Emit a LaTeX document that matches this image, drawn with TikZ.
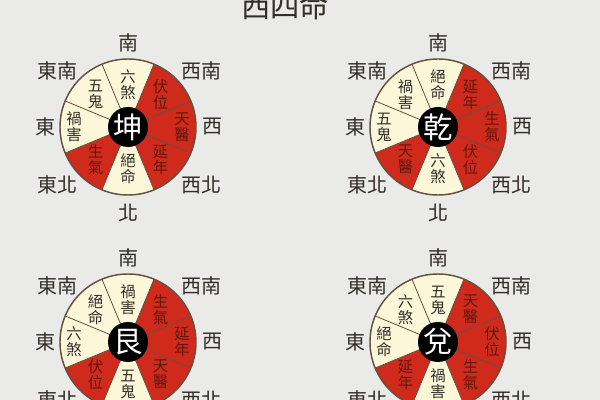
\documentclass[tikz,border=0pt]{standalone}
\usepackage{fontspec}
\setmainfont{Noto Sans CJK TC}
\usetikzlibrary{positioning}
\definecolor{fondo}{RGB}{234,234,232}
\definecolor{rojo}{RGB}{208,42,28}
\definecolor{crema}{RGB}{252,247,216}
\definecolor{linea}{RGB}{100,80,65}
\definecolor{tinta}{RGB}{50,45,40}
\definecolor{tintaroja}{RGB}{100,22,12}

% rueda: #1 nombre, #2 centro, #3 trigrama, #4 sectores (S, SO, O, NO, N, NE, E, SE)
\newcommand{\rueda}[4]{
  \begin{scope}[shift={#2}]
    % Sectores
    \foreach \lab/\tipo [count=\i from 0] in {#4} {
      \pgfmathsetmacro{\ang}{90-45*\i}
      \fill[\tipo] (0,0) -- ({\ang-22.5}:68) arc[start angle=\ang-22.5, end angle=\ang+22.5, radius=68] -- cycle;
    }
    \foreach \a in {22.5,67.5,...,337.5}
      \draw[divisor] (0,0) -- (\a:68);
    \draw[borde] (0,0) circle[radius=68];
    % Textos de los sectores
    \foreach \lab/\tipo [count=\i from 0] in {#4} {
      \pgfmathsetmacro{\ang}{90-45*\i}
      \pgfmathsetmacro{\dist}{{42,46,54,46,42,46,54,46}[\i]}
      \node[texto \tipo] (#1-s\i) at (\ang:\dist) {\lab};
    }
    % Trigrama en el centro
    \node[centro] (#1) at (0,0) {#3};
    % Rumbos
    \node[rumbo] (#1-sur) at (0,84) {南};
    \node[rumbo] (#1-so) at (73,56) {西南};
    \node[rumbo] (#1-oeste) at (84,0) {西};
    \node[rumbo] (#1-no) at (73,-58) {西北};
    \node[rumbo] (#1-norte) at (0,-86) {北};
    \node[rumbo] (#1-ne) at (-71,-58) {東北};
    \node[rumbo] (#1-este) at (-83,0) {東};
    \node[rumbo] (#1-se) at (-71,56) {東南};
  \end{scope}}

\begin{document}
\begin{tikzpicture}[x=0.75pt,y=0.75pt]
  \tikzstyle{bueno}=[fill=rojo]
  \tikzstyle{malo}=[fill=crema]
  \tikzstyle{divisor}=[draw=linea, line width=0.6pt]
  \tikzstyle{borde}=[draw=linea, line width=1.1pt]
  \tikzstyle{texto bueno}=[text=tintaroja, align=center, inner sep=0, font=\fontsize{11.5}{12}\selectfont]
  \tikzstyle{texto malo}=[text=tinta, align=center, inner sep=0, font=\fontsize{11.5}{12}\selectfont]
  \tikzstyle{centro}=[circle, fill=black, text=white, minimum size=30pt, inner sep=0, font=\fontsize{22}{22}\selectfont]
  \tikzstyle{rumbo}=[text=tinta, inner sep=0, font=\fontsize{15}{15}\selectfont]
  \tikzstyle{titulo}=[text=tinta, inner sep=0, font=\fontsize{22}{22}\selectfont]

  % Fondo
  \useasboundingbox (0,0) rectangle (600,400);
  \fill[fondo] (0,0) rectangle (600,400);
  \clip (0,0) rectangle (600,400);

  % Titulo
  \node[titulo] (titulo) at (285,394) {西四命};

  % Las cuatro ruedas
  \rueda{kun}{(128,273)}{坤}{六\\煞/malo, 伏\\位/bueno, 天\\醫/bueno, 延\\年/bueno, 絕\\命/malo, 生\\氣/bueno, 禍\\害/malo, 五\\鬼/malo}
  \rueda{qian}{(438,273)}{乾}{絕\\命/malo, 延\\年/bueno, 生\\氣/bueno, 伏\\位/bueno, 六\\煞/malo, 天\\醫/bueno, 五\\鬼/malo, 禍\\害/malo}
  \rueda{gen}{(128,58)}{艮}{禍\\害/malo, 生\\氣/bueno, 延\\年/bueno, 天\\醫/bueno, 五\\鬼/malo, 伏\\位/bueno, 六\\煞/malo, 絕\\命/malo}
  \rueda{dui}{(438,58)}{兌}{五\\鬼/malo, 天\\醫/bueno, 伏\\位/bueno, 生\\氣/bueno, 禍\\害/malo, 延\\年/bueno, 絕\\命/malo, 六\\煞/malo}
\end{tikzpicture}
\end{document}
